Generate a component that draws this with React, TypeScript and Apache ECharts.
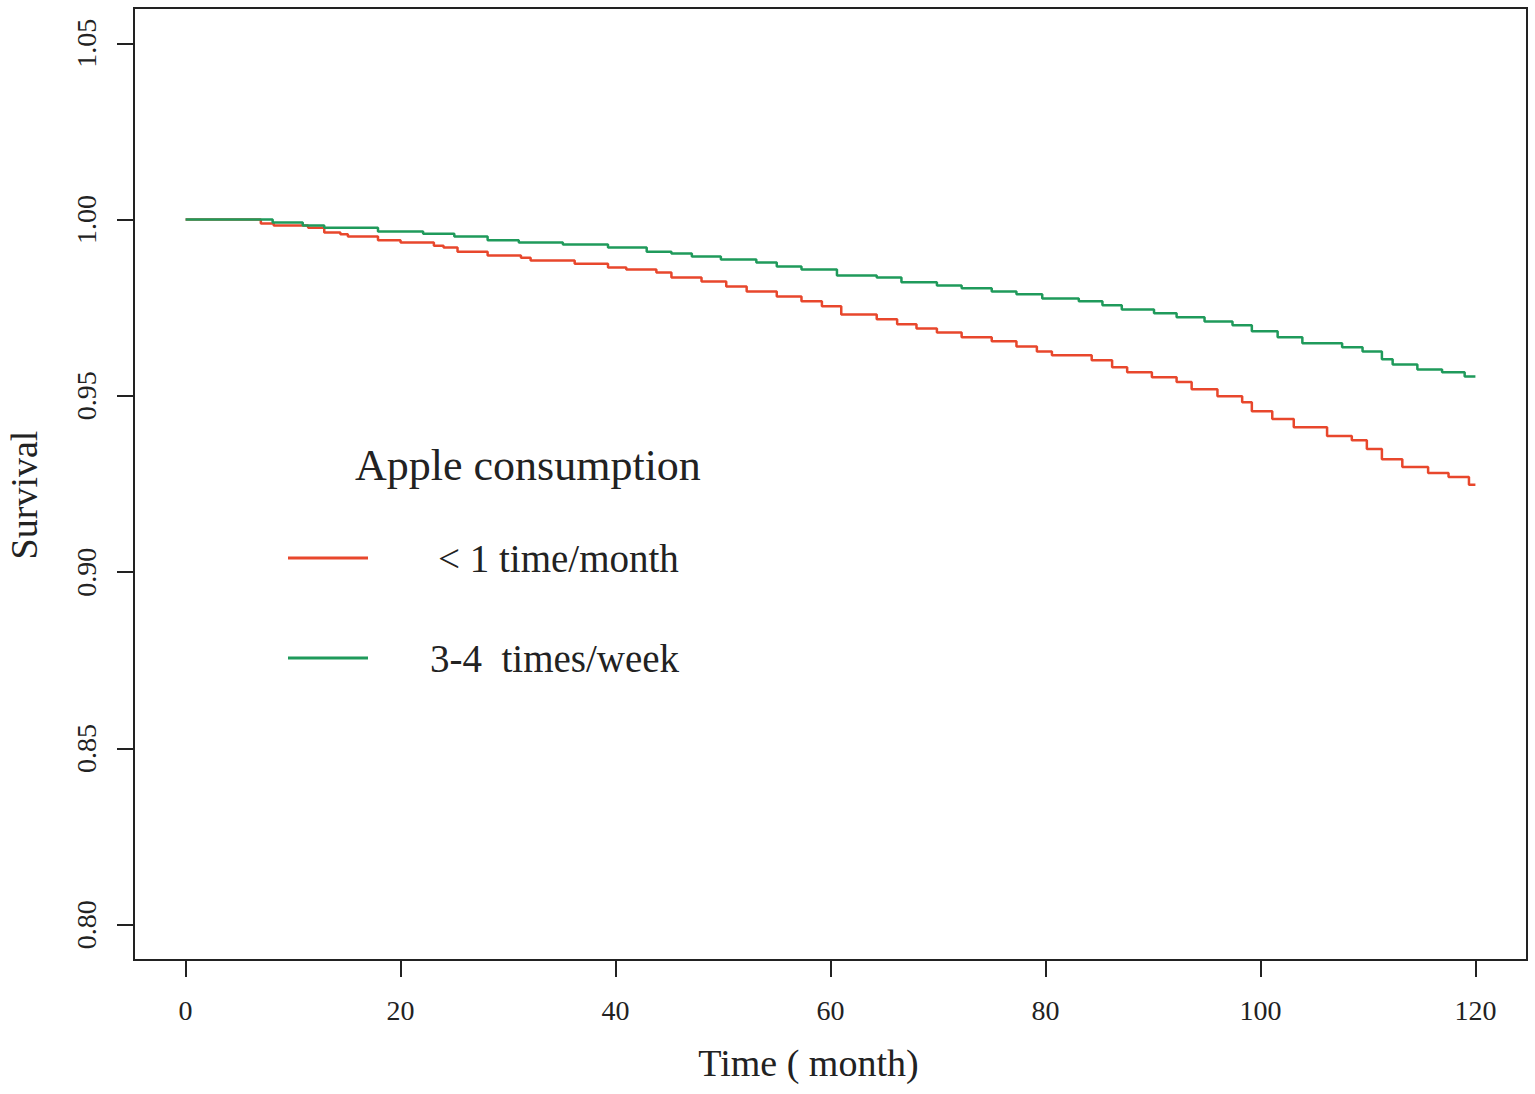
import React, { useEffect, useRef } from "react";
import * as echarts from "echarts";

const xTicks = [0, 20, 40, 60, 80, 100, 120];
const yTicks = [0.8, 0.85, 0.9, 0.95, 1.0, 1.05];

const lowTimes = [0, 7.0, 8.2, 11.4, 12.9, 14.4, 15.1, 17.9, 20.0, 23.1, 24.0, 25.3, 28.1, 31.2, 32.1, 36.2, 39.3, 41.0, 43.8, 45.2, 48.0, 50.3, 52.2, 55.0, 57.3, 59.2, 61.0, 64.3, 66.2, 68.0, 69.9, 72.2, 75.0, 77.3, 79.2, 80.6, 84.3, 86.2, 87.6, 89.9, 92.2, 93.6, 96.0, 98.3, 99.2, 101.1, 103.1, 106.2, 108.5, 109.9, 111.3, 113.2, 115.6, 117.5, 119.4, 120];
const lowSurv = [1.0, 0.9989, 0.9983, 0.9977, 0.9963, 0.9958, 0.9952, 0.9941, 0.9935, 0.9926, 0.9921, 0.9909, 0.9898, 0.9892, 0.9884, 0.9875, 0.9864, 0.9858, 0.985, 0.9836, 0.9824, 0.981, 0.9796, 0.9782, 0.9768, 0.9754, 0.9731, 0.9717, 0.9703, 0.9691, 0.968, 0.9666, 0.9655, 0.964, 0.9626, 0.9615, 0.9601, 0.9581, 0.9567, 0.9553, 0.9539, 0.9519, 0.9499, 0.9482, 0.9456, 0.9434, 0.9411, 0.9386, 0.9374, 0.9349, 0.932, 0.9298, 0.9281, 0.927, 0.9248, 0.9248];

const highTimes = [0, 8.1, 10.9, 12.9, 17.9, 22.1, 25.0, 28.1, 31.0, 35.1, 39.3, 42.9, 45.2, 47.1, 49.8, 53.1, 55.0, 57.3, 60.6, 64.3, 66.6, 69.9, 72.2, 75.0, 77.3, 79.7, 83.1, 85.3, 87.1, 90.1, 92.2, 94.8, 97.4, 99.2, 101.6, 103.9, 107.6, 109.5, 111.3, 112.3, 114.6, 116.9, 119.0, 120];
const highSurv = [1.0, 0.99915, 0.9983, 0.9977, 0.9966, 0.996, 0.9952, 0.9941, 0.9935, 0.9929, 0.9921, 0.9909, 0.9904, 0.9895, 0.9887, 0.9878, 0.9867, 0.9858, 0.9841, 0.9836, 0.9822, 0.9813, 0.9805, 0.9796, 0.9788, 0.9776, 0.9768, 0.9757, 0.9745, 0.9734, 0.9723, 0.9711, 0.97, 0.9683, 0.9666, 0.9649, 0.9638, 0.9626, 0.9604, 0.9589, 0.9575, 0.9567, 0.9555, 0.9555];

const lowName = "< 1 time/month";
const highName = "3-4  times/week";
const legendTitle = "Apple consumption";

const RED = "#E8472C";
const GREEN = "#1F9A5B";
const INK = "#222222";
const FONT = "'Liberation Serif', 'Times New Roman', serif";

export default function App() {
  const ref = useRef<HTMLDivElement>(null);
  useEffect(() => {
    if (!ref.current) return;
    const chart = echarts.init(ref.current, null, { renderer: "svg" });
    const low = lowTimes.map((t, i) => [t, lowSurv[i]]);
    const high = highTimes.map((t, i) => [t, highSurv[i]]);
    chart.setOption({
      animation: false,
      backgroundColor: "#ffffff",
      textStyle: { fontFamily: FONT, color: INK },
      grid: {
        left: 134,
        right: 8,
        top: 8,
        bottom: 134,
        containLabel: false,
        outerBoundsMode: "none",
        show: true,
        borderColor: INK,
        borderWidth: 2,
        backgroundColor: "transparent",
      },
      title: {
        text: legendTitle,
        left: 355,
        top: 443,
        padding: 0,
        textStyle: { fontFamily: FONT, fontSize: 44, fontWeight: "normal", color: INK },
      },
      legend: {
        orient: "vertical",
        left: 288,
        top: 536,
        padding: 0,
        itemWidth: 80,
        itemHeight: 3,
        itemGap: 56,
        icon: "rect",
        textStyle: { fontFamily: FONT, fontSize: 39, color: INK, lineHeight: 44 },
        data: [
          { name: lowName, textStyle: { padding: [0, 0, 0, 65] } },
          { name: highName, textStyle: { padding: [0, 0, 0, 57] } },
        ],
      },
      xAxis: {
        type: "value",
        min: -4.8,
        max: 124.8,
        name: "Time ( month)",
        nameLocation: "middle",
        nameGap: 84,
        nameTextStyle: { fontFamily: FONT, fontSize: 38, color: INK, padding: [0, 44, 0, 0] },
        axisLine: { show: true, onZero: false, lineStyle: { color: INK, width: 2 } },
        axisTick: { show: true, length: 17, customValues: xTicks, lineStyle: { color: INK, width: 2 } },
        axisLabel: { customValues: xTicks, margin: 36, fontFamily: FONT, fontSize: 28, color: INK },
        splitLine: { show: false },
      },
      yAxis: {
        type: "value",
        min: 0.79,
        max: 1.06,
        name: "Survival",
        nameLocation: "middle",
        nameGap: 91,
        nameRotate: 90,
        nameTextStyle: { fontFamily: FONT, fontSize: 38, color: INK, padding: [0, 22, 0, 0] },
        axisLine: { show: true, onZero: false, lineStyle: { color: INK, width: 2 } },
        axisTick: { show: true, length: 17, customValues: yTicks, lineStyle: { color: INK, width: 2 } },
        axisLabel: {
          customValues: yTicks,
          rotate: 90,
          margin: 34,
          fontFamily: FONT,
          fontSize: 28,
          color: INK,
          formatter: (v: number) => v.toFixed(2),
        },
        splitLine: { show: false },
      },
      series: [
        {
          name: lowName,
          type: "line",
          step: "end",
          data: low,
          showSymbol: false,
          symbol: "none",
          color: RED,
          lineStyle: { color: RED, width: 2.5 },
          z: 2,
        },
        {
          name: highName,
          type: "line",
          step: "end",
          data: high,
          showSymbol: false,
          symbol: "none",
          color: GREEN,
          lineStyle: { color: GREEN, width: 2.5 },
          z: 3,
        },
      ],
    });
    return () => chart.dispose();
  }, []);
  return (
    <div
      ref={ref}
      style={{ position: "absolute", left: 0, top: 0, width: 1535, height: 1094 }}
    />
  );
}
